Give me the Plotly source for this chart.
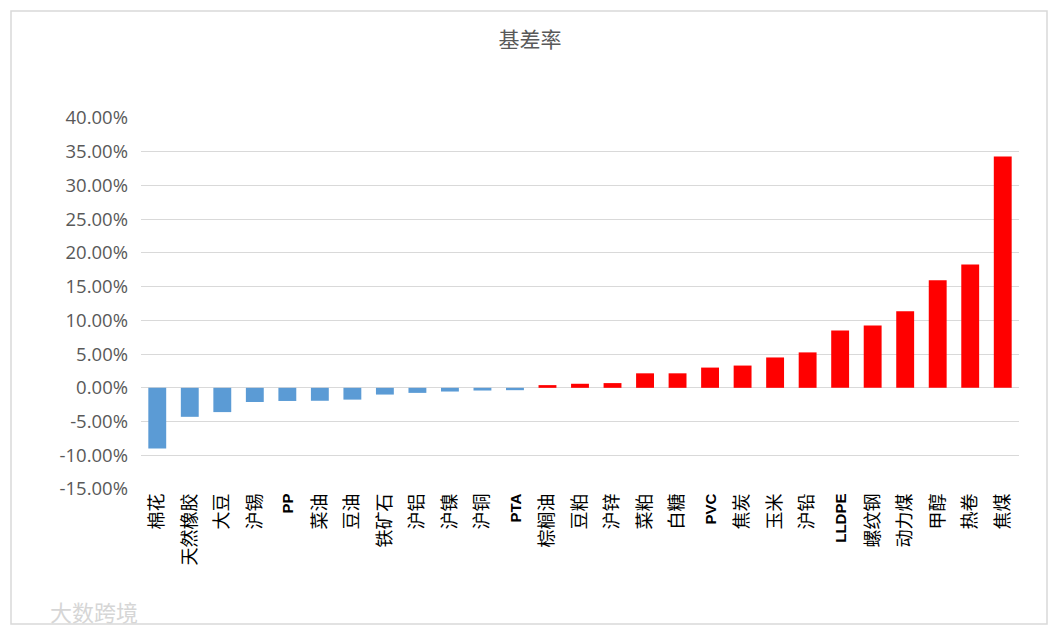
import plotly.graph_objects as go

categories = ["棉花", "天然橡胶", "大豆", "沪锡", "PP", "菜油", "豆油", "铁矿石", "沪铝", "沪镍",
              "沪铜", "PTA", "棕榈油", "豆粕", "沪锌", "菜粕", "白糖", "PVC", "焦炭", "玉米",
              "沪铅", "LLDPE", "螺纹钢", "动力煤", "甲醇", "热卷", "焦煤"]
values = [-0.0900, -0.0430, -0.0360, -0.0210, -0.0195, -0.0192, -0.0175, -0.0100, -0.0075, -0.0055,
          -0.0040, -0.0035, 0.0040, 0.0060, 0.0070, 0.0215, 0.0215, 0.0300, 0.0330, 0.0450,
          0.0525, 0.0850, 0.0925, 0.1135, 0.1595, 0.1830, 0.3430]
y_ticks = [-0.15, -0.10, -0.05, 0.0, 0.05, 0.10, 0.15, 0.20, 0.25, 0.30, 0.35, 0.40]
y_tick_labels = ["-15.00%", "-10.00%", "-5.00%", "0.00%", "5.00%", "10.00%", "15.00%",
                 "20.00%", "25.00%", "30.00%", "35.00%", "40.00%"]
title_text = "基差率"
watermark_text = "大数跨境"

W, H = 1060, 633
ML, MR, MT, MB = 141, 41, 118, 144

colors = ["#5B9BD5" if v < 0 else "#FF0000" for v in values]


def tick_label(c):
    if c.isascii():
        return "<b><span style='font-size:15px'>" + c + "</span></b>"
    return c


fig = go.Figure(go.Bar(
    x=categories, y=values, marker=dict(color=colors, line=dict(width=0)),
    hoverinfo="x+y",
))

pw = W - ML - MR
ph = H - MT - MB


def px_to_paper_x(px):
    return (px - ML) / pw


def py_to_paper_y(py):
    return (H - MB - py) / ph


fig.update_layout(
    width=W, height=H,
    margin=dict(l=ML, r=MR, t=MT, b=MB),
    paper_bgcolor="white", plot_bgcolor="white",
    bargap=0.45,
    showlegend=False,
    title=dict(text=title_text, x=530 / W, xanchor="center", y=1 - 40 / H, yanchor="middle",
               font=dict(family="Noto Sans CJK SC", size=21, color="#595959")),
    xaxis=dict(
        type="category", tickangle=-90, showgrid=False, showline=False, ticks="",
        tickmode="array", tickvals=categories, ticktext=[tick_label(c) for c in categories],
        tickfont=dict(family="Liberation Sans, Noto Sans CJK SC", size=18, color="#000000"),
    ),
    yaxis=dict(
        range=[-0.15, 0.40], tickvals=y_ticks, ticktext=y_tick_labels,
        showgrid=True, gridcolor="#D9D9D9", gridwidth=1,
        zeroline=True, zerolinecolor="#D9D9D9", zerolinewidth=1,
        showline=False, ticks="", ticklabelstandoff=12,
        tickfont=dict(family="Open Sans", size=18.5, color="#595959"),
    ),
    shapes=[dict(
        type="rect", xref="paper", yref="paper",
        x0=px_to_paper_x(11), x1=px_to_paper_x(1047),
        y0=py_to_paper_y(624), y1=py_to_paper_y(11),
        line=dict(color="#D9D9D9", width=1.5), fillcolor="rgba(0,0,0,0)", layer="below",
    )],
    annotations=[dict(
        text=watermark_text, xref="paper", yref="paper",
        x=px_to_paper_x(48), y=py_to_paper_y(611), xanchor="left", yanchor="middle",
        showarrow=False, font=dict(family="Noto Sans CJK SC", size=22, color="#D6D6D6"),
    )],
)

fig.write_html("out.html", config={"displayModeBar": False},
               post_script="document.body.style.margin='0';")
